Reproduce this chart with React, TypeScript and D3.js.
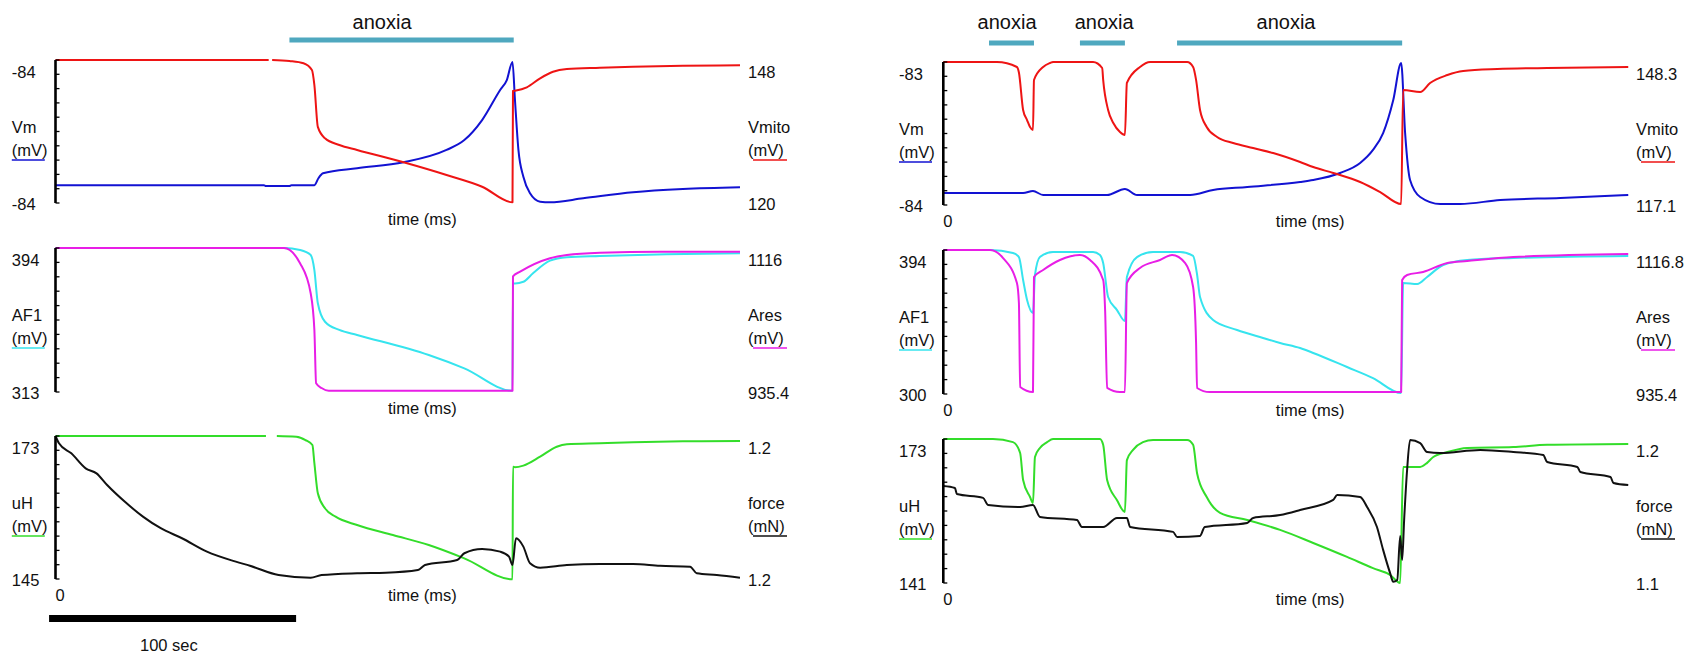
import React from "react";
import * as d3 from "d3";

type Pt = [number, number];

// time (s) vs value. NaN marks a gap in the trace.
// ---------- Left experiment (single anoxia) ----------
const L_VM: Pt[] = [
  [0, -84.3], [84.4, -84.3], [85, -84.305], [94.7, -84.305], [95.5, -84.3], [104.8, -84.3],
  [106.5, -84.26], [108.3, -84.234], [122.1, -84.206], [140.9, -84.172], [158.3, -84.103],
  [165.5, -84.048], [172.7, -83.936], [180.0, -83.768], [182.7, -83.712], [185.0, -83.611],
  [186.0, -83.824], [187.4, -84.103], [189.4, -84.253], [192.1, -84.346], [196.2, -84.393],
  [200.2, -84.396], [213.6, -84.374], [233.8, -84.34], [254.0, -84.322], [277.1, -84.312],
];
const L_VMITO: Pt[] = [
  [0, 148], [86.3, 148], [87, NaN], [87.7, 148], [94.7, 147.8], [100.4, 147.35], [103.8, 146.04],
  [104.8, 143.1], [106.2, 134.9], [109.1, 132.67], [114.9, 131.36], [122.1, 130.38],
  [140.9, 127.97], [158.3, 125.48], [172.7, 123.19], [185.0, 120.14], [185.2, 141.93],
  [186.0, 141.99], [190.8, 142.65], [196.2, 144.42], [201.4, 145.71], [207.0, 146.24],
  [220.4, 146.49], [233.8, 146.69], [254.0, 146.88], [277.1, 146.96],
];
const L_AF1: Pt[] = [
  [0, 394], [92.5, 394], [99.0, 392.9], [103.3, 390.06], [104.8, 381.6], [106.2, 362.9],
  [109.1, 352.5], [114.9, 347.9], [122.1, 345.1], [151.1, 333.8], [165.5, 326.3], [185.0, 313.7],
  [185.2, 374.1], [186.0, 374.1], [189.4, 375.0], [193.3, 379.8], [200.2, 386.9], [207.0, 388.8],
  [220.4, 389.5], [247.4, 390.5], [277.1, 391.0],
];
const L_ARES: Pt[] = [
  [0, 1116], [92.5, 1116], [99.0, 1096.8], [103.3, 1059.2], [104.8, 1013.2], [105.5, 946.3],
  [107.7, 940.4], [110.6, 937.0], [185.0, 937.0], [185.2, 1080.5], [188.1, 1086.3],
  [200.2, 1103.1], [207.0, 1107.2], [220.4, 1110.1], [244.7, 1111.4], [277.1, 1111.4],
];
const L_UH: Pt[] = [
  [0, 173], [85.2, 173], [87, NaN], [89.6, 173], [97.5, 172.86], [101.2, 172.2], [104.0, 171.24],
  [104.8, 167.7], [106.2, 161.78], [109.1, 158.84], [113.4, 157.2], [122.1, 155.57],
  [136.6, 153.6], [151.1, 151.66], [165.5, 149.05], [185.0, 144.94], [185.2, 167.0],
  [186.0, 166.87], [189.4, 167.2], [196.2, 168.95], [202.9, 170.9], [207.0, 171.37],
  [220.4, 171.57], [233.8, 171.77], [254.0, 171.96], [277.1, 172.02],
];
const L_FORCE: Pt[] = [
  [0, 1.24], [1.4, 1.2359], [6.4, 1.2303], [12.2, 1.2219], [16.6, 1.2191], [20.9, 1.2126],
  [28.1, 1.2032], [35.4, 1.1949], [42.6, 1.1884], [51.2, 1.1828], [61.3, 1.1753], [73.0, 1.1697],
  [78.7, 1.1674], [90.3, 1.1622], [103.3, 1.1607], [107.7, 1.1622], [122.1, 1.1632],
  [133.7, 1.1635], [146.7, 1.165], [149.6, 1.1678], [162.6, 1.1706], [165.5, 1.1744],
  [172.7, 1.1768], [180.0, 1.1753], [183.6, 1.1725], [185.0, 1.1678], [186.4, 1.1828],
  [189.4, 1.1781], [192.1, 1.1688], [196.2, 1.1663], [207.0, 1.1678], [220.4, 1.1684],
  [233.8, 1.1684], [244.7, 1.1674], [256.9, 1.1669], [259.6, 1.1632], [267.7, 1.1622],
  [277.1, 1.1607],
];

// ---------- Right experiment (three anoxia episodes) ----------
const R_VM: Pt[] = [
  [0, -83.916], [32.3, -83.916], [36.3, -83.902], [40.4, -83.93], [66.3, -83.93], [73.5, -83.888],
  [78.4, -83.93], [99.9, -83.93], [109.2, -83.895], [123.0, -83.874], [144.4, -83.839],
  [149.7, -83.825], [160.6, -83.776], [168.7, -83.706], [173.9, -83.615], [178.0, -83.497],
  [182.1, -83.266], [185.3, -83.007], [186.9, -83.497], [188.9, -83.825], [193.0, -83.944],
  [201.1, -83.993], [209.2, -83.993], [225.4, -83.965], [249.7, -83.951], [277.2, -83.93],
];
const R_VMITO: Pt[] = [
  [0, 148.3], [21.7, 148.3], [29.8, 147.21], [30.6, 146.01], [32.3, 137.83], [33.9, 135.64],
  [35.1, 134.12], [36.3, 133.46], [36.7, 144.37], [40.4, 147.21], [43.2, 148.08], [44.4, 148.3],
  [60.6, 148.3], [64.3, 146.99], [64.7, 144.4], [66.7, 137.83], [68.8, 134.99], [71.5, 133.03],
  [73.5, 132.37], [74.3, 143.72], [79.6, 147.21], [83.7, 148.3], [98.7, 148.3], [101.1, 147.21],
  [102.3, 144.4], [103.9, 137.83], [106.6, 134.12], [110.8, 131.94], [117.3, 130.63],
  [125.4, 129.53], [133.5, 128.44], [144.4, 126.48], [149.7, 125.39], [157.8, 124.08],
  [168.7, 122.12], [176.8, 119.93], [185.3, 117.32], [186.1, 142.19], [193.0, 141.75],
  [197.0, 143.72], [204.0, 145.46], [210.4, 146.34], [224.2, 146.77], [244.4, 146.99],
  [277.2, 147.21],
];
const R_AF1: Pt[] = [
  [0, 394], [18.9, 394], [28.2, 392.0], [30.6, 389.4], [32.3, 374.4], [33.9, 361.4], [36.3, 352.9],
  [37.1, 377.7], [39.1, 389.4], [44.4, 392.7], [60.6, 392.7], [63.4, 390.7], [64.7, 385.5],
  [66.7, 363.3], [70.3, 354.8], [73.5, 347.7], [74.3, 376.4], [78.4, 389.4], [84.9, 392.7],
  [95.8, 392.7], [101.1, 390.1], [102.7, 378], [103.9, 363.3], [109.2, 348.3], [118.9, 341.8],
  [129.4, 336.6], [136.3, 333.3], [144.4, 330.0], [149.7, 326.8], [163.4, 317.6], [173.9, 310.4],
  [185.3, 300.6], [186.1, 372.5], [191.8, 371.8], [195.8, 376.4], [202.3, 384.2], [212.0, 387.5],
  [230.7, 388.8], [277.2, 390.1],
];
const R_ARES: Pt[] = [
  [0, 1116.8], [18.9, 1116.8], [24.2, 1106.7], [29.8, 1075.2], [30.6, 1050.0], [31.1, 944.2],
  [36.3, 937.9], [36.7, 1082.8], [40.4, 1091.6], [47.2, 1104.2], [55.3, 1110.5], [59.4, 1104.2],
  [64.7, 1079.0], [65.5, 1040], [66.3, 943.0], [71.5, 937.9], [73.5, 937.9], [74.3, 1075.2],
  [79.6, 1094.1], [87.7, 1104.2], [92.6, 1110.5], [97.9, 1100.4], [101.1, 1070.2], [102.3, 1000],
  [102.7, 943.0], [107.8, 937.9], [185.3, 937.9], [185.7, 1079.0], [187.7, 1085.3],
  [194.2, 1089.1], [204.0, 1100.4], [212.0, 1102.9], [230.7, 1108.0], [277.2, 1111.8],
];
const R_UH: Pt[] = [
  [0, 173], [20.1, 173], [28.2, 172.3], [31.1, 169.9], [32.3, 163.9], [35.1, 160.1], [36.3, 158.8],
  [37.1, 169.0], [39.1, 171.0], [42.0, 172.3], [44.4, 173.0], [63.4, 173.0], [64.7, 171.7],
  [66.3, 163.9], [70.3, 159.4], [73.5, 156.8], [74.3, 168.3], [76.8, 170.6], [80.8, 172.3],
  [84.9, 172.8], [98.7, 172.8], [101.1, 171.7], [102.7, 165.4], [106.6, 160.1], [112.0, 156.6],
  [123.0, 155.0], [136.3, 152.8], [149.7, 149.9], [163.4, 146.8], [173.9, 144.3], [180.8, 142.8],
  [184.9, 141.0], [186.1, 166.8], [193.0, 166.8], [195.8, 167.7], [198.3, 169.0], [204.0, 170.1],
  [212.0, 171.0], [230.7, 171.2], [244.4, 171.7], [277.2, 171.9],
];
const R_FORCE: Pt[] = [
  [0, 1.1674], [4.7, 1.166], [5.5, 1.1618], [16.1, 1.1591], [18.1, 1.1542], [31.1, 1.1528],
  [36.3, 1.1542], [39.1, 1.1459], [54.1, 1.1438], [56.1, 1.1389], [64.7, 1.1389], [70.3, 1.1452],
  [74.3, 1.1452], [75.6, 1.1389], [93.0, 1.1355], [94.6, 1.132], [103.9, 1.1327], [105.8, 1.1389],
  [123.0, 1.1417], [125.4, 1.1452], [136.3, 1.1472], [144.4, 1.1507], [157.8, 1.1577],
  [159.4, 1.1611], [168.7, 1.1597], [171.5, 1.1528], [175.5, 1.1389], [178.0, 1.123],
  [180.8, 1.107], [182.1, 1.1008], [183.7, 1.1021], [184.9, 1.1327], [185.7, 1.116],
  [186.5, 1.1438], [187.7, 1.1785], [188.9, 1.1993], [193.0, 1.1972], [195.8, 1.191],
  [201.1, 1.1903], [217.3, 1.1924], [230.7, 1.191], [242.8, 1.1889], [244.4, 1.184],
  [256.6, 1.1806], [257.8, 1.1771], [270.0, 1.1736], [271.2, 1.1695], [277.2, 1.1681],
];

// anoxia periods [start, end] (s) and label positions (s)
const L_ANOXIA: Pt[] = [[94.7, 185.5]];
const L_ANOXIA_TEXT: number[] = [132.2];
const R_ANOXIA: Pt[] = [[18.5, 36.7], [55.3, 73.5], [94.6, 185.7]];
const R_ANOXIA_TEXT: number[] = [25.8, 65.1, 138.7];

// y-domains [bottom, top] and printed range labels [top, bottom]
const L_DOMAINS = { vm: [-84.4, -83.6], vmito: [120, 148], af1: [313, 394], ares: [935.4, 1116], uh: [145, 173], force: [1.16, 1.24] };
const R_DOMAINS = { vm: [-84, -83], vmito: [117.1, 148.3], af1: [300, 394], ares: [935.4, 1116.8], uh: [141, 173], force: [1.1, 1.2] };
const L_LABELS = { vm: ["-84", "-84"], vmito: ["148", "120"], af1: ["394", "313"], ares: ["1116", "935.4"], uh: ["173", "145"], force: ["1.2", "1.2"] };
const R_LABELS = { vm: ["-83", "-84"], vmito: ["148.3", "117.1"], af1: ["394", "300"], ares: ["1116.8", "935.4"], uh: ["173", "141"], force: ["1.2", "1.1"] };

const T_MAX = 277.1;
const SCALE_BAR_START = -2.6;
const SCALE_BAR_LEN = 100;
const SCALE_LABEL_T = 45.9;
const TIME_LABEL_T = 148.5;

// ---------- styling ----------
const W = 1694;
const H = 655;
const FONT = "'Liberation Sans', Arial, Helvetica, sans-serif";
const FS = 16.5;
const C = {
  red: "#ee1414",
  blue: "#1212d2",
  cyan: "#36e4ee",
  magenta: "#e81ee6",
  green: "#33dd2a",
  black: "#111111",
  anoxia: "#4fa8bf",
};

interface Series { data: Pt[]; domain: number[]; color: string; labels: string[]; name: string; unit: string; underline: string; }
interface Row { top: number; bottom: number; left: Series; right: Series; zero: boolean; }
interface Col { x0: number; x1: number; leftLabelX: number; rightLabelX: number; rows: Row[]; anoxia: Pt[]; anoxiaText: number[]; barY: number; }

function makeCol(x0: number, x1: number, llx: number, rlx: number, tops: number[][], d: any, lab: any, data: any, zero: boolean[], anoxia: Pt[], anoxiaText: number[], barY: number): Col {
  return {
    x0, x1, leftLabelX: llx, rightLabelX: rlx, anoxia, anoxiaText, barY,
    rows: [
      {
        top: tops[0][0], bottom: tops[0][1], zero: zero[0],
        left: { data: data.vm, domain: d.vm, color: C.blue, labels: lab.vm, name: "Vm", unit: "(mV)", underline: C.blue },
        right: { data: data.vmito, domain: d.vmito, color: C.red, labels: lab.vmito, name: "Vmito", unit: "(mV)", underline: C.red },
      },
      {
        top: tops[1][0], bottom: tops[1][1], zero: zero[1],
        left: { data: data.af1, domain: d.af1, color: C.cyan, labels: lab.af1, name: "AF1", unit: "(mV)", underline: C.cyan },
        right: { data: data.ares, domain: d.ares, color: C.magenta, labels: lab.ares, name: "Ares", unit: "(mV)", underline: C.magenta },
      },
      {
        top: tops[2][0], bottom: tops[2][1], zero: zero[2],
        left: { data: data.uh, domain: d.uh, color: C.green, labels: lab.uh, name: "uH", unit: "(mV)", underline: C.green },
        right: { data: data.force, domain: d.force, color: C.black, labels: lab.force, name: "force", unit: "(mN)", underline: C.black },
      },
    ],
  };
}

const COLS: Col[] = [
  makeCol(55.5, 740, 11.8, 748, [[60, 203], [248, 392], [436, 579]], L_DOMAINS, L_LABELS,
    { vm: L_VM, vmito: L_VMITO, af1: L_AF1, ares: L_ARES, uh: L_UH, force: L_FORCE },
    [false, false, true], L_ANOXIA, L_ANOXIA_TEXT, 40),
  makeCol(943.3, 1628, 899, 1636, [[62, 205], [250, 394], [439, 583]], R_DOMAINS, R_LABELS,
    { vm: R_VM, vmito: R_VMITO, af1: R_AF1, ares: R_ARES, uh: R_UH, force: R_FORCE },
    [true, true, true], R_ANOXIA, R_ANOXIA_TEXT, 43),
];

function Txt(props: any) {
  return <text fontFamily={FONT} fontSize={FS} fill="#111" dy="0.35em" {...props} />;
}

function Column({ c }: { c: Col }) {
  const x = d3.scaleLinear().domain([0, T_MAX]).range([c.x0, c.x1]);
  return (
    <g>
      {c.anoxia.map((a, i) => (
        <line key={"b" + i} x1={x(a[0])} x2={x(a[1])} y1={c.barY} y2={c.barY} stroke={C.anoxia} strokeWidth={5} />
      ))}
      {c.anoxiaText.map((t, i) => (
        <text key={"a" + i} x={x(t)} y={22} dy="0.35em" textAnchor="middle" fontFamily={FONT} fontSize={20} fill="#111">anoxia</text>
      ))}
      {c.rows.map((r, ri) => {
        const mk = (s: Series) => {
          const y = d3.scaleLinear().domain(s.domain).range([r.bottom, r.top]);
          const line = d3.line<Pt>()
            .defined((d) => !isNaN(d[1]))
            .x((d) => x(d[0]))
            .y((d) => y(d[1]))
            .curve(d3.curveMonotoneX);
          return line(s.data) || "";
        };
        const yAxis = d3.scaleLinear().domain([0, 10]).range([r.bottom, r.top]);
        const ticks = d3.range(0, 11);
        return (
          <g key={ri}>
            <path d={mk(r.left)} fill="none" stroke={r.left.color} strokeWidth={2} strokeLinejoin="round" />
            <path d={mk(r.right)} fill="none" stroke={r.right.color} strokeWidth={2} strokeLinejoin="round" />
            <line x1={c.x0} x2={c.x0} y1={r.top} y2={r.bottom} stroke="#000" strokeWidth={2.6} />
            {ticks.map((t) => (
              <line key={t} x1={c.x0} x2={c.x0 + 4} y1={yAxis(t)} y2={yAxis(t)} stroke="#000" strokeWidth={1.3} />
            ))}
            {/* left labels */}
            <Txt x={c.leftLabelX} y={r.top + 12.5}>{r.left.labels[0]}</Txt>
            <Txt x={c.leftLabelX} y={r.bottom + 1}>{r.left.labels[1]}</Txt>
            <Txt x={c.leftLabelX} y={r.top + 67.5}>{r.left.name}</Txt>
            <Txt x={c.leftLabelX} y={r.top + 90}>{r.left.unit}</Txt>
            <line x1={c.leftLabelX} x2={c.leftLabelX + 33} y1={r.top + 100} y2={r.top + 100} stroke={r.left.underline} strokeWidth={1.4} />
            {/* right labels */}
            <Txt x={c.rightLabelX} y={r.top + 12.5}>{r.right.labels[0]}</Txt>
            <Txt x={c.rightLabelX} y={r.bottom + 1}>{r.right.labels[1]}</Txt>
            <Txt x={c.rightLabelX} y={r.top + 67.5}>{r.right.name}</Txt>
            <Txt x={c.rightLabelX} y={r.top + 90}>{r.right.unit}</Txt>
            <line x1={c.rightLabelX + 5} x2={c.rightLabelX + 39} y1={r.top + 100} y2={r.top + 100} stroke={r.right.underline} strokeWidth={1.4} />
            {/* time label */}
            <Txt x={x(TIME_LABEL_T)} y={r.bottom + 16} textAnchor="middle">time (ms)</Txt>
            {r.zero && <Txt x={c.x0} y={r.bottom + 16}>0</Txt>}
          </g>
        );
      })}
    </g>
  );
}

export default function App() {
  const xl = d3.scaleLinear().domain([0, T_MAX]).range([COLS[0].x0, COLS[0].x1]);
  return (
    <svg width={W} height={H} style={{ position: "absolute", left: 0, top: 0, background: "#fff" }}>
      <rect x={0} y={0} width={W} height={H} fill="#fff" />
      {COLS.map((c, i) => <Column key={i} c={c} />)}
      <rect x={xl(SCALE_BAR_START)} y={615} width={xl(SCALE_BAR_START + SCALE_BAR_LEN) - xl(SCALE_BAR_START)} height={7} fill="#000" />
      <Txt x={xl(SCALE_LABEL_T)} y={645} textAnchor="middle">100 sec</Txt>
    </svg>
  );
}
